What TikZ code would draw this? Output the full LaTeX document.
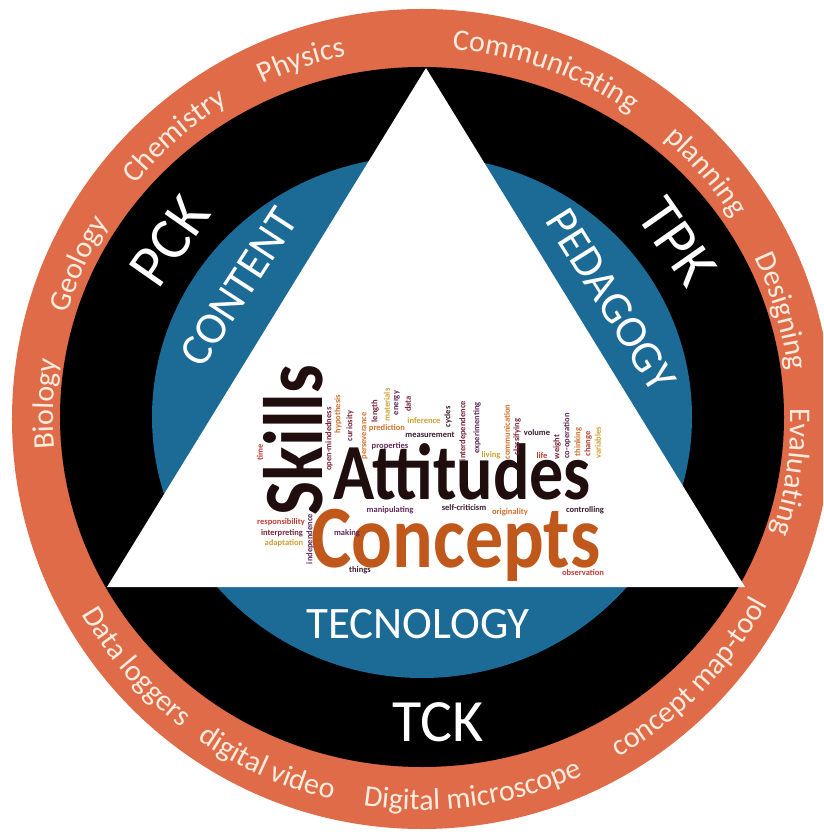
\documentclass[tikz,border=0pt]{standalone}
\usepackage{fontspec}
\setmainfont{Carlito}
\usepackage{graphicx}
\usepackage{xcolor}
\usepackage{tikz}
\usetikzlibrary{decorations.text}

\definecolor{ringorange}{RGB}{224,107,72}
\definecolor{ringblue}{RGB}{28,106,150}
\definecolor{ringtext}{RGB}{250,236,222}
\definecolor{wcdark}{RGB}{58,28,50}
\definecolor{wcmaroon}{RGB}{122,38,58}
\definecolor{wcpurple}{RGB}{96,42,92}
\definecolor{wcorange}{RGB}{212,112,42}
\definecolor{wcgold}{RGB}{204,162,52}
\definecolor{wcred}{RGB}{186,62,52}
\definecolor{bigdark}{RGB}{32,14,14}
\definecolor{bigorange}{RGB}{192,88,28}

\newcommand{\ringfont}{\fontsize{30}{30}\selectfont}
% word on the upper ring, read clockwise
\newcommand{\topword}[2]{%
  \path[decorate, decoration={text along path, text align=center, text color=ringtext, text={|\ringfont|#2}}]
    ({#1+30}:369pt) arc[start angle={#1+30}, end angle={#1-30}, radius=369pt];}
% word on the lower ring, read counter-clockwise
\newcommand{\botword}[2]{%
  \path[decorate, decoration={text along path, text align=center, text color=ringtext, text={|\ringfont|#2}}]
    ({#1-30}:393pt) arc[start angle={#1-30}, end angle={#1+30}, radius=393pt];}
% tall, narrow word for the cloud
\newcommand{\tallword}[1]{\scalebox{1}[1.17]{#1}}

\begin{document}
\begin{tikzpicture}[
  x=1pt, y=1pt,
  zone/.style={text=white, inner sep=0pt, font=\fontsize{60}{60}\selectfont},
  sphere/.style={text=white, inner sep=0pt, font=\fontsize{45}{45}\selectfont},
  cloud/.style={inner sep=0pt, font=\bfseries\fontsize{8.5}{8.5}\selectfont},
  bigword/.style={inner sep=0pt, anchor=base},
]
\useasboundingbox (-422,-417) rectangle (401,417);
\clip (-422,-417) rectangle (401,417);

% Rings
\fill[ringorange] (0,-2) circle (410pt);
\fill[black] (0,0) ellipse [x radius=362pt, y radius=350pt];
\fill[ringblue] (0,0) ellipse [x radius=270pt, y radius=261pt];
\fill[white] (4,349) -- (-315,-170) -- (323,-170) -- cycle;

% Outer ring words
\topword{178}{Biology}
\topword{156}{Geology}
\topword{131.4}{Chemistry}
\topword{108.7}{Physics}
\topword{70.4}{Communicating}
\topword{40.8}{planning}
\topword{16.4}{Designing}
\topword{-8.5}{Evaluating}
\botword{-138.8}{Data loggers}
\botword{-114}{digital video}
\botword{-82.2}{Digital microscope}
\botword{-44.2}{concept map-tool}

% Black ring labels
\node[zone, rotate=55] (pck) at (-252,176) {PCK};
\node[zone, rotate=-55] (tpk) at (255,175) {TPK};
\node[zone] (tck) at (16,-305) {TCK};

% Blue ring labels
\node[sphere, rotate=57] (content) at (-183,130) {CONTENT};
\node[sphere, rotate=-58] (pedagogy) at (189,117) {PEDAGOGY};
\node[sphere] (tecnology) at (-4,-207) {TECNOLOGY};

% Word cloud
\node[bigword, rotate=90, text=bigdark, font=\bfseries\fontsize{72}{72}\selectfont] (skills) at (-100,-23) {\tallword{Skills}};
\node[bigword, text=bigdark, font=\bfseries\fontsize{68}{68}\selectfont] (attitudes) at (40,-83) {\tallword{Attitudes}};
\node[bigword, text=bigorange, font=\bfseries\fontsize{76}{76}\selectfont] (concepts) at (34,-150) {\tallword{Concepts}};

\foreach \w/\x/\y/\r/\c in {
  time/-162/-35/90/wcred,
  open-mindedness/-93/-22/90/wcmaroon,
  hypothesis/-84/3/90/wcorange,
  curiosity/-72/-9/90/wcmaroon,
  perseverance/-57/-19/90/wcorange,
  length/-47/6/90/wcmaroon,
  materials/-35/12/90/wcgold,
  energy/-25/14/90/wcpurple,
  data/-14/13/90/wcmaroon,
  cycles/26/0/90/wcdark,
  interdependence/41/-14/90/wcmaroon,
  experimenting/55/-11/90/wcpurple,
  communication/85/-15/90/wcorange,
  classifying/95/-20/90/wcmaroon,
  weight/135/-30/90/wcmaroon,
  co-operation/145/-19/90/wcpurple,
  thinking/156/-25/90/wcorange,
  change/166/-27/90/wcred,
  variables/176/-26/90/wcgold,
  independence/-112/-122/90/wcpurple,
  inference/2/-4/0/wcgold,
  prediction/-35/-11/0/wcorange,
  measurement/8/-18/0/wcdark,
  properties/-32/-29/0/wcpurple,
  living/69/-38/0/wcgold,
  volume/115/-16/0/wcdark,
  life/120/-39/0/wcred,
  manipulating/-32/-93/0/wcpurple,
  self-criticism/42/-91/0/wcdark,
  originality/88/-95/0/wcorange,
  controlling/163/-93/0/wcdark,
  responsibility/-141/-105/0/wcred,
  interpreting/-140/-116/0/wcmaroon,
  adaptation/-138/-126/0/wcgold,
  making/-75/-116/0/wcpurple,
  things/-62/-153/0/wcdark,
  observation/161/-156/0/wcred} {
  \node[cloud, rotate=\r, text=\c] (w-\w) at (\x,\y) {\w};
}
\end{tikzpicture}
\end{document}
